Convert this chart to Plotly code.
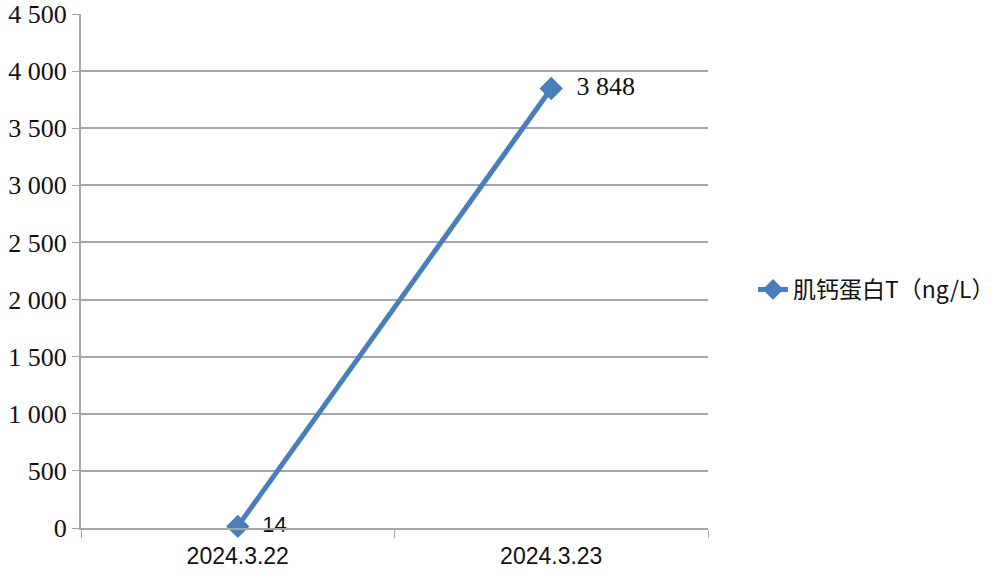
import plotly.graph_objects as go

categories = ["2024.3.22", "2024.3.23"]
values = [14, 3848]
point_labels = ["14", "3 848"]
series_name = "肌钙蛋白T（ng/L）"
y_tickvals = [0, 500, 1000, 1500, 2000, 2500, 3000, 3500, 4000, 4500]
y_ticktext = ["0", "500", "1 000", "1 500", "2 000", "2 500", "3 000", "3 500", "4 000", "4 500"]

fig = go.Figure()
fig.add_trace(go.Scatter(
    x=categories, y=values, name=series_name,
    mode="lines+markers+text",
    line=dict(color="#4a7ebb", width=5),
    marker=dict(symbol="diamond", size=18, color="#4a7ebb"),
    text=["  " + t for t in point_labels],
    textposition="middle right",
    textfont=dict(family=["Liberation Sans", "Liberation Serif"], size=[22, 26], color="#111111"),
    cliponaxis=False,
))

fig.update_layout(
    width=1000, height=579,
    paper_bgcolor="white", plot_bgcolor="white",
    margin=dict(l=81, r=292, t=14, b=51),
    showlegend=True,
    legend=dict(xref="container", yref="container", x=1.0, y=0.5, xanchor="right", yanchor="middle",
                font=dict(family="Noto Sans CJK SC, Liberation Sans", size=23, color="#111111"),
                bgcolor="rgba(0,0,0,0)"),
    xaxis=dict(type="category", tickson="boundaries", ticks="outside", ticklen=8,
               tickcolor="#a6a6a6", showgrid=False, showline=True, linecolor="#a6a6a6",
               linewidth=2, zeroline=False, automargin=False, ticklabelstandoff=6,
               tickfont=dict(family="Liberation Sans", size=23, color="#111111"),
               range=[-0.5, 1.5]),
    yaxis=dict(range=[0, 4500], tickvals=y_tickvals, ticktext=y_ticktext,
               ticks="outside", ticklen=7, tickcolor="#a6a6a6", automargin=False,
               ticklabeloverflow="allow",
               showgrid=True, gridcolor="#a6a6a6", gridwidth=2,
               showline=True, linecolor="#a6a6a6", linewidth=2, zeroline=False,
               tickfont=dict(family="Liberation Serif", size=26, color="#111111")),
)

fig.write_html("out.html", config={"displayModeBar": False},
               post_script="document.body.style.margin='0';")
